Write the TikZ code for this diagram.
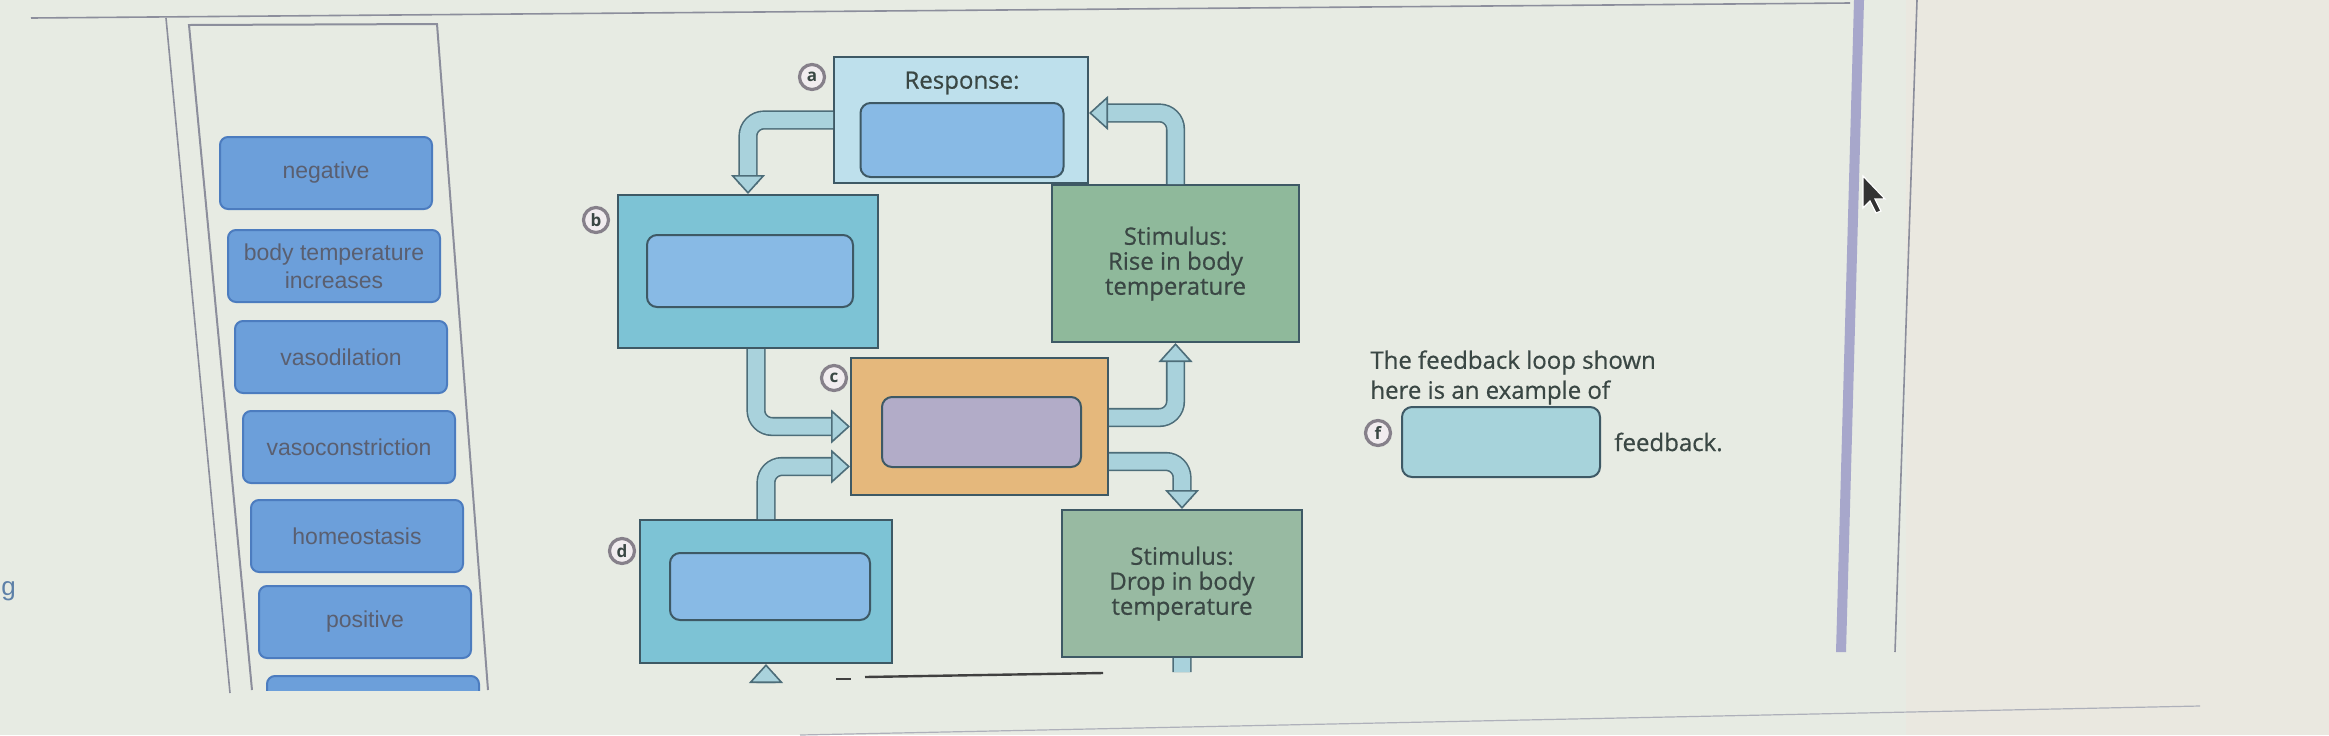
\documentclass[tikz,border=0pt]{standalone}
\usepackage{fontspec}
\setmainfont{Open Sans}
\newfontfamily\labelfont[FakeBold=0.6]{Open Sans}
\newfontfamily\tilefont{Liberation Sans}
\usetikzlibrary{arrows.meta,positioning,calc}

\definecolor{bgcol}{HTML}{E7EBE3}
\definecolor{bgright}{HTML}{EAE8E0}
\definecolor{framecol}{HTML}{8C8E9C}
\definecolor{tilefill}{HTML}{6C9FDA}
\definecolor{tileedge}{HTML}{4C7CBF}
\definecolor{tiletext}{HTML}{5A5F70}
\definecolor{boxedge}{HTML}{3E5965}
\definecolor{respfill}{HTML}{BEE0EC}
\definecolor{tealfill}{HTML}{7DC3D5}
\definecolor{blankfill}{HTML}{88BAE5}
\definecolor{stimfill}{HTML}{8FB99B}
\definecolor{dropfill}{HTML}{98BAA2}
\definecolor{ctrfill}{HTML}{E5B87C}
\definecolor{ctrblank}{HTML}{B2ACC8}
\definecolor{pipefill}{HTML}{A9D2DC}
\definecolor{pipeline}{HTML}{4D6D79}
\definecolor{labeltext}{HTML}{3A4744}
\definecolor{tagfill}{HTML}{F1ECEF}
\definecolor{tagedge}{HTML}{86808A}
\definecolor{fblankfill}{HTML}{A7D3DB}
\definecolor{barcol}{HTML}{A7A7CB}
\definecolor{gcol}{HTML}{5D80A8}

\tikzset{
  tile/.style={draw=tileedge, line width=1pt, fill=tilefill, rounded corners=4pt,
    minimum width=106pt, minimum height=36pt, inner sep=0pt, text=tiletext,
    font=\tilefont\fontsize{11.5}{14}\selectfont, align=center},
  panelbox/.style={draw=boxedge, line width=1pt, inner sep=0pt},
  blank/.style={draw=boxedge, line width=1pt, fill=blankfill, rounded corners=5pt, inner sep=0pt},
  stimbox/.style={panelbox, fill=stimfill, text=labeltext, align=center,
    font=\labelfont\fontsize{12}{12.5}\selectfont},
  tag/.style={circle, draw=tagedge, line width=1.6pt, fill=tagfill, inner sep=0pt,
    minimum size=12.5pt, text=labeltext, font=\bfseries\fontsize{8.5}{8.5}\selectfont},
  flowpipe/.style={draw=pipefill, line width=8pt, rounded corners=8pt,
    preaction={draw=pipeline, line width=9.6pt, arrows=-, shorten >=5pt},
    -{Triangle[length=9.5pt, width=17pt, line width=0.8pt, color=pipeline, fill=pipefill]}},
}

\begin{document}
\begin{tikzpicture}[x=0.5pt,y=-0.5pt]
\useasboundingbox (0,0) rectangle (2329,735);
\fill[bgcol] (0,0) rectangle (2329,735);
\fill[bgright] (1906,0) rectangle (2329,735);

% answer bank
\draw[framecol, line width=0.8pt] (31,18) -- (1850,3);
\draw[framecol, line width=0.8pt] (166,18) -- (230,693);
\draw[framecol, line width=1pt] (252,690) -- (189,25) -- (437,24) -- (488,690);
\node[tile] (negative) at (326,173) {negative};
\node[tile] (tempup) at (334,266) {body temperature\\increases};
\node[tile] (vasodil) at (341,357) {vasodilation};
\node[tile] (vasocon) at (349,447) {vasoconstriction};
\node[tile] (homeo) at (357,536) {homeostasis};
\node[tile] (positive) at (365,622) {positive};
\begin{scope}
  \clip (0,0) rectangle (2329,690);
  \node[tile] (moretile) at (373,712) {};
\end{scope}
\node[anchor=base west, inner sep=0pt, text=gcol, font=\tilefont\fontsize{13}{13}\selectfont] (edgeg) at (1,595) {g};

% loop
\node[panelbox, fill=respfill, minimum width=127pt, minimum height=63pt] (resp) at (961,120) {};
\node[text=labeltext, font=\labelfont\fontsize{12}{12}\selectfont] (resptitle) at (962,83) {Response:};
\node[blank, minimum width=101.5pt, minimum height=37pt] (respblank) at (962,140) {};
\node[panelbox, fill=tealfill, minimum width=130pt, minimum height=76.5pt] (effb) at (748,271.5) {};
\node[blank, minimum width=103pt, minimum height=36pt] (effbblank) at (750,271) {};
\node[stimbox, minimum width=123.5pt, minimum height=78.5pt] (rise) at (1175.5,263.5) {Stimulus:\\Rise in body\\temperature};
\node[panelbox, fill=ctrfill, minimum width=128.5pt, minimum height=68.5pt] (ctr) at (979.5,426.5) {};
\node[blank, fill=ctrblank, minimum width=99.5pt, minimum height=35pt] (ctrblank) at (981.5,432) {};
\node[panelbox, fill=tealfill, minimum width=126pt, minimum height=71.5pt] (effd) at (766,591.5) {};
\node[blank, minimum width=100pt, minimum height=33.5pt] (effdblank) at (770,586.5) {};
\node[stimbox, fill=dropfill, minimum width=120pt, minimum height=73.5pt] (drop) at (1182,583.5) {Stimulus:\\Drop in body\\temperature};

\node[tag] (taga) at (812,77) {a};
\node[tag] (tagb) at (596,220) {b};
\node[tag] (tagc) at (834,378) {c};
\node[tag] (tagd) at (622,551) {d};

\draw[flowpipe] (resp.west) -| (effb.north);
\draw[flowpipe] (rise.north) |- ([yshift=3.5pt]resp.east);
\draw[flowpipe] ([xshift=4pt]effb.south) |- (ctr.west);
\draw[flowpipe] (effd.north) |- ([yshift=-20pt]ctr.west);
\draw[flowpipe] ([yshift=4.5pt]ctr.east) -| (rise.south);
\draw[flowpipe] ([yshift=-17.5pt]ctr.east) -| (drop.north);
\begin{scope}
  \clip (0,0) -- (2329,0) -- (2329,672) -- (1100,672) -- (900,683) -- (0,683) -- cycle;
  \draw[flowpipe] (drop.south) -- ++(0,60) -| (effd.south);
\end{scope}
\draw[black!75, line width=1.2pt] (865,677) -- (1103,673);
\draw[black!75, line width=1.2pt] (836,679) -- (851,679);

% question
\node[anchor=north west, align=left, inner sep=0pt, text=labeltext, font=\labelfont\fontsize{12}{15}\selectfont] (question) at (1370,350) {The feedback loop shown\\here is an example of};
\node[draw=boxedge, line width=1pt, fill=fblankfill, rounded corners=5pt, minimum width=99pt, minimum height=35pt, inner sep=0pt] (fblank) at (1501,442) {};
\node[tag] (tagf) at (1378,433) {f};
\node[right=6.5pt of fblank, inner sep=0pt, text=labeltext, font=\labelfont\fontsize{12}{12}\selectfont] (fbword) {feedback.};

% screen edge
\fill[barcol] (1854,0) -- (1864,0) -- (1846,652) -- (1836,652) -- cycle;
\draw[framecol, line width=0.8pt] (1917,0) -- (1895,652);
\draw[framecol!70, line width=0.6pt] (800,735) -- (2200,706);
\filldraw[fill=black!80, draw=white, line width=0.6pt] (1863,176) -- (1863,208) -- (1870,201) -- (1876,213) -- (1881,211) -- (1875,199) -- (1885,199) -- cycle;
\end{tikzpicture}
\end{document}
